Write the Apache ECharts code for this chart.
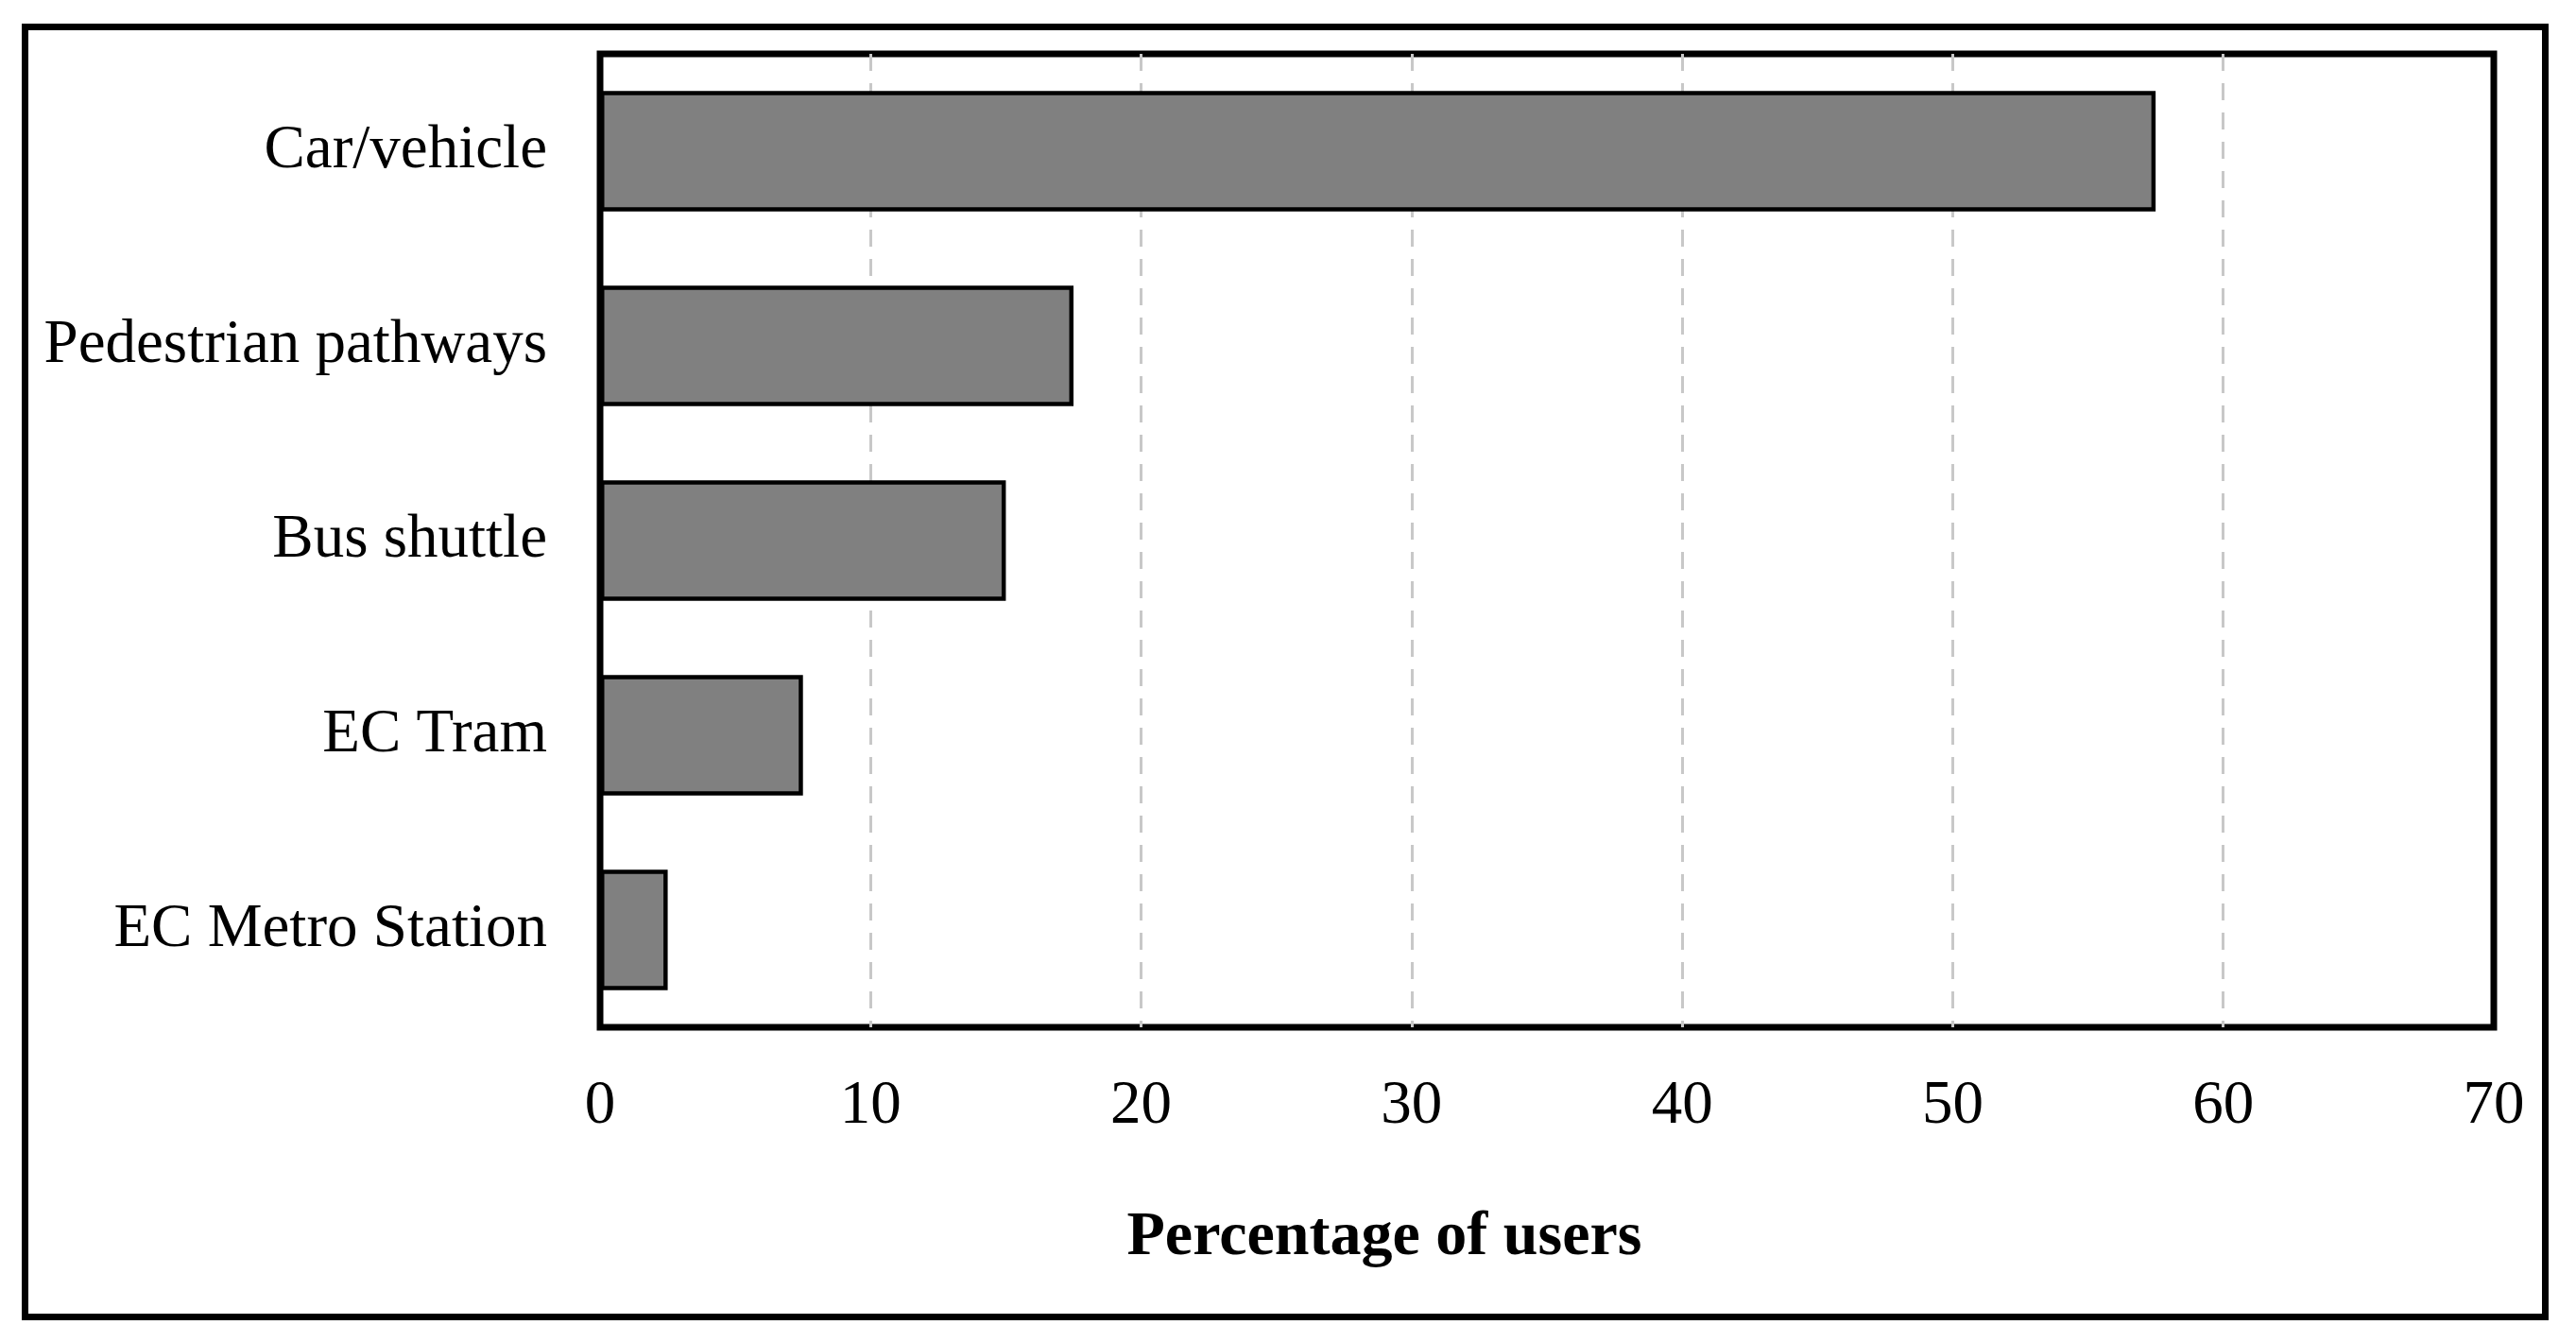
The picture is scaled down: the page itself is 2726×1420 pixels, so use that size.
<!DOCTYPE html>
<html>
<head>
<meta charset="utf-8">
<script src="https://cdn.jsdelivr.net/npm/echarts@6/dist/echarts.min.js"></script>
<style>
html,body{margin:0;padding:0;background:#fff;}
#chart{width:2726px;height:1420px;}
</style>
</head>
<body>
<div id="chart"></div>
<script>
const categories = ['Car/vehicle', 'Pedestrian pathways', 'Bus shuttle', 'EC Tram', 'EC Metro Station'];
const percentages = [57.5, 17.5, 15, 7.5, 2.5];
const xTicks = [0, 10, 20, 30, 40, 50, 60, 70];
const xAxisTitle = 'Percentage of users';

const FONT = '"Liberation Serif", "Times New Roman", serif';
const chart = echarts.init(document.getElementById('chart'), null, {renderer: 'canvas'});
chart.setOption({
  backgroundColor: '#ffffff',
  animation: false,
  graphic: [{
    type: 'rect',
    z: 100,
    silent: true,
    shape: {x: 26.5, y: 28.5, width: 2667, height: 1365},
    style: {fill: 'none', stroke: '#000', lineWidth: 7}
  }],
  grid: {
    left: 635, top: 57, width: 2004, height: 1030,
    show: true, borderColor: '#000', borderWidth: 7, backgroundColor: 'transparent',
    containLabel: false
  },
  xAxis: {
    type: 'value',
    min: xTicks[0], max: xTicks[xTicks.length - 1], interval: xTicks[1] - xTicks[0],
    axisLine: {show: false},
    axisTick: {show: false},
    axisLabel: {fontFamily: FONT, fontSize: 65, color: '#000', margin: 51},
    splitLine: {
      show: true, showMinLine: false, showMaxLine: false,
      lineStyle: {color: '#c8c8c8', width: 3, type: [18, 13]}
    },
    name: xAxisTitle,
    nameLocation: 'middle',
    nameGap: 190,
    nameTextStyle: {fontFamily: FONT, fontSize: 66, fontWeight: 'bold', color: '#000', padding: [0, 344, 0, 0]}
  },
  yAxis: {
    type: 'category',
    data: categories,
    inverse: true,
    axisLine: {show: false},
    axisTick: {show: false},
    splitLine: {show: false},
    axisLabel: {fontFamily: FONT, fontSize: 65, color: '#000', margin: 56}
  },
  series: [{
    type: 'bar',
    data: percentages,
    barWidth: '62%',
    itemStyle: {color: '#808080', borderColor: '#000', borderWidth: 4.5}
  }]
});
</script>
</body>
</html>
